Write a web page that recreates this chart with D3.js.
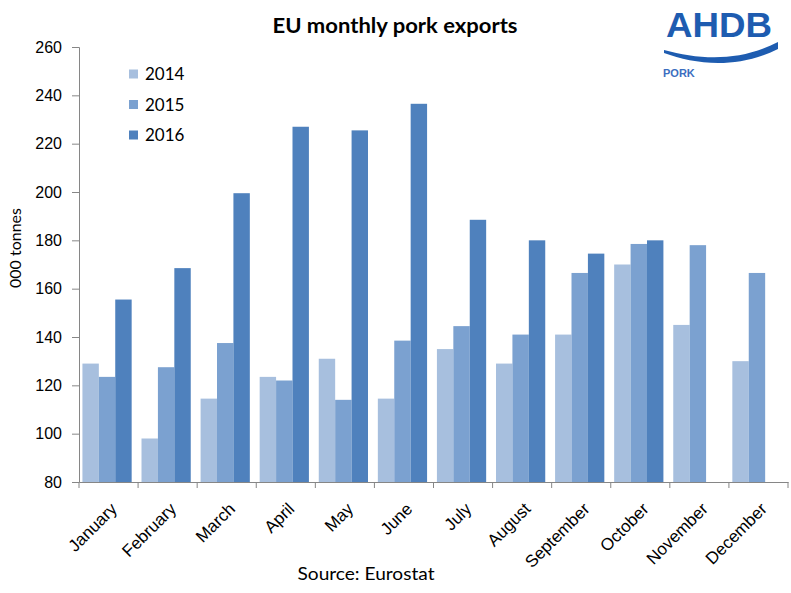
<!DOCTYPE html>
<html>
<head>
<meta charset="utf-8">
<script src="https://cdn.jsdelivr.net/npm/d3@7"></script>
<style>
  body { margin: 0; background: #fff; }
  svg { display: block; font-family: Lato, "Liberation Sans", sans-serif; }
</style>
</head>
<body>
<div id="chart"></div>
<script>
const months = ["January","February","March","April","May","June","July","August","September","October","November","December"];
const years = ["2014","2015","2016"];
const v2014 = [129, 98, 114.5, 123.5, 131, 114.5, 135, 129, 141, 170, 145, 130];
const v2015 = [123.5, 127.5, 137.5, 122, 114, 138.5, 144.5, 141, 166.5, 178.5, 178, 166.5];
const v2016 = [155.5, 168.5, 199.5, 227, 225.5, 236.5, 188.5, 180, 174.5, 180, null, null];
const yTicks = [80,100,120,140,160,180,200,220,240,260];
const colors = ["#A7BFDE", "#7BA1D0", "#4F81BD"];

const W = 791, H = 593;
const margin = {left: 79, right: 3, top: 47, bottom: 111};
const svg = d3.select("#chart").append("svg").attr("width", W).attr("height", H);

const x = d3.scaleBand().domain(months).range([margin.left, W - margin.right]).paddingInner(0).paddingOuter(0);
const xs = d3.scaleBand().domain(years).range([0, x.bandwidth()]).paddingInner(0).paddingOuter(0.3);
const y = d3.scaleLinear().domain([80, 260]).range([H - margin.bottom, margin.top]);

const series = [v2014, v2015, v2016];

// bars
const g = svg.append("g");
years.forEach((yr, si) => {
  g.append("g").selectAll("rect")
    .data(months.map((m, i) => ({m, v: series[si][i]})).filter(d => d.v != null))
    .join("rect")
    .attr("x", d => x(d.m) + xs(yr) - 1.5)
    .attr("y", d => y(d.v))
    .attr("width", xs.bandwidth())
    .attr("height", d => y(80) - y(d.v))
    .attr("fill", colors[si]);
});

// y axis
const yAxis = svg.append("g")
  .attr("transform", `translate(${margin.left},0)`)
  .call(d3.axisLeft(y).tickValues(yTicks).tickSize(7).tickPadding(10));
yAxis.select(".domain").attr("stroke", "#868686");
yAxis.selectAll(".tick line").attr("stroke", "#868686");
yAxis.selectAll(".tick text").attr("font-size", 16).attr("fill", "#000");

// x axis
const xAxis = svg.append("g")
  .attr("transform", `translate(0,${y(80)})`)
  .call(d3.axisBottom(x).tickSize(0).tickFormat(""));
xAxis.select(".domain").attr("stroke", "#868686");
xAxis.selectAll("line.bound")
  .data(months.map(m => x(m)).concat([x.range()[1]]))
  .join("line").attr("class", "bound")
  .attr("x1", d => d).attr("x2", d => d)
  .attr("y1", 0).attr("y2", 6)
  .attr("stroke", "#868686");
xAxis.selectAll("text.lab")
  .data(months)
  .join("text").attr("class", "lab")
  .attr("transform", d => `translate(${x(d) + x.bandwidth()/2 + 0.5},${19}) rotate(-45)`)
  .attr("text-anchor", "end")
  .attr("dy", "0.75em")
  .attr("font-size", 17)
  .attr("fill", "#000")
  .text(d => d);

// y title
svg.append("text")
  .attr("transform", `translate(21,${248}) rotate(-90)`)
  .attr("text-anchor", "middle")
  .attr("font-size", 16)
  .text("000 tonnes");

// chart title
svg.append("text")
  .attr("x", 395).attr("y", 33)
  .attr("text-anchor", "middle")
  .attr("font-size", 20).attr("font-weight", "bold")
  .attr("textLength", 245).attr("lengthAdjust", "spacingAndGlyphs")
  .text("EU monthly pork exports");

// source
svg.append("text")
  .attr("x", 366).attr("y", 580)
  .attr("text-anchor", "middle")
  .attr("font-size", 17)
  .attr("textLength", 137).attr("lengthAdjust", "spacingAndGlyphs")
  .text("Source: Eurostat");

// legend
const leg = svg.append("g");
years.forEach((yr, i) => {
  const cy = 74 + i * 30.5;
  leg.append("rect").attr("x", 129).attr("y", cy - 4.5).attr("width", 9).attr("height", 9).attr("fill", colors[i]);
  leg.append("text").attr("x", 145).attr("y", cy).attr("dy", "0.36em")
    .attr("font-size", 17).attr("fill", "#000").text(yr);
});

// logo
const logo = svg.append("g");
logo.append("text").attr("x", 719).attr("y", 37).attr("text-anchor", "middle")
  .attr("font-size", 35).attr("font-weight", "bold").attr("fill", "#1E5CB0")
  .attr("font-family", "'Liberation Sans', Arial, sans-serif")
  .attr("textLength", 106).attr("lengthAdjust", "spacingAndGlyphs")
  .text("AHDB");
logo.append("path")
  .attr("d", "M664,50 C700,60 740,62 778,42 L778,49 C735,70 695,64 664,53 Z")
  .attr("fill", "#1E5CB0");
logo.append("text").attr("x", 663).attr("y", 77)
  .attr("font-size", 11).attr("font-weight", "bold").attr("fill", "#3B6EC0")
  .attr("font-family", "'Liberation Sans', Arial, sans-serif")
  .text("PORK");
</script>
</body>
</html>
